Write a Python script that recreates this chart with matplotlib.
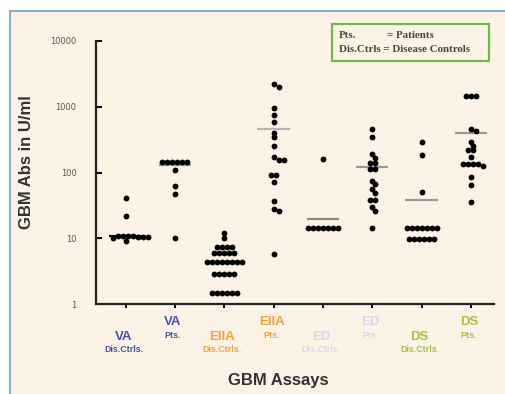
import numpy as np
import matplotlib
matplotlib.use("Agg")
import matplotlib.pyplot as plt
from matplotlib.patches import Rectangle

# ---------------- data ----------------
assays = ["VA", "VA", "EIIA", "EIIA", "ED", "ED", "DS", "DS"]
subgroups = ["Dis.Ctrls.", "Pts.", "Dis.Ctrls.", "Pts.", "Dis.Ctrls.", "Pts.", "Dis.Ctrls.", "Pts."]
label_colors = ["#4a50a6", "#4a50a6", "#f2a433", "#f2a433", "#d6d8ef", "#d6d8ef", "#a6c43a", "#a6c43a"]

va_ctrls = [41, 22, 11, 11, 11, 11, 10.5, 10.5, 10.5, 10, 9]
va_pts = [145, 145, 145, 145, 145, 145, 110, 62, 47, 10.2]
eiia_ctrls = [11.9, 10.2, 7.3, 7.3, 7.3, 7.3, 5.9, 5.9, 5.9, 5.9, 5.9,
              4.4, 4.4, 4.4, 4.4, 4.4, 4.4, 4.4, 4.4,
              2.86, 2.86, 2.86, 2.86, 2.86, 1.49, 1.49, 1.49, 1.49, 1.49, 1.49]
eiia_pts = [2190, 1980, 946, 750, 590, 403, 343, 256, 170, 155, 155,
            92, 92, 71, 36.5, 27.9, 26, 5.8]
ed_ctrls = [162, 14.5, 14.5, 14.5, 14.5, 14.5, 14.5, 14.5]
ed_pts = [464, 347, 189, 166, 141, 141, 115, 115, 74, 66, 56, 49, 38, 38, 29.5, 26, 14.5]
ds_ctrls = [291, 182, 51, 14.5, 14.5, 14.5, 14.5, 14.5, 14.5, 14.5,
            9.8, 9.8, 9.8, 9.8, 9.8, 9.8]
ds_pts = [1456, 1456, 1456, 454, 433, 294, 256, 220, 220, 170,
          133, 133, 133, 133, 126, 86, 65, 35]
groups = [va_ctrls, va_pts, eiia_ctrls, eiia_pts, ed_ctrls, ed_pts, ds_ctrls, ds_pts]

summary_values = [11, 130, 4.4, 457, 19.6, 123, 38, 403]
summary_colors = ["#111111", "#999999", "#111111", "#b5b5b5", "#888888", "#999999", "#999999", "#999999"]

y_ticks = [1, 10, 100, 1000, 10000]

# ---------------- layout helpers ----------------
W, H = 505, 394
BG = "#fdf2e6"
ax_left, ax_right, ax_bottom, ax_top = 96, 494, 304, 41
xmin, xmax = 0.40, 8.47
px_per_x = (ax_right - ax_left) / (xmax - xmin)
px_per_decade = (ax_bottom - ax_top) / 4.0
DOT = 5.0


def swarm(values):
    """rows of identical values centred; distinct values nudged sideways on collision"""
    vals = np.asarray(values, dtype=float)
    offs = np.zeros(len(vals))
    placed = []
    step = DOT / px_per_x
    for v in sorted(np.unique(vals), reverse=True):
        idx = np.where(vals == v)[0]
        n = len(idx)
        ypx = np.log10(v) * px_per_decade
        base = (np.arange(n) - (n - 1) / 2.0) * step
        shifts = [0.0]
        for k in range(1, 12):
            shifts += [k * step * 0.5, -k * step * 0.5]
        for sh in shifts:
            cand = base + sh
            ok = all((cx - c) ** 2 * px_per_x ** 2 + (ypx - cy) ** 2 >= (DOT * 0.8) ** 2
                     for c in cand for (cx, cy) in placed)
            if ok:
                break
        offs[idx] = cand
        placed += [(c, ypx) for c in cand]
    return offs


fig = plt.figure(figsize=(W / 100, H / 100), dpi=100)
fig.patch.set_facecolor("white")
panel = fig.add_axes([10 / W, 0, 1 - 10 / W, 1 - 11 / H])
panel.set_facecolor(BG)
panel.set_xticks([])
panel.set_yticks([])
for s in ["right", "bottom"]:
    panel.spines[s].set_visible(False)
for s in ["left", "top"]:
    panel.spines[s].set_color("#8aaad0")
    panel.spines[s].set_linewidth(1.5)

ax = fig.add_axes([ax_left / W, 1 - ax_bottom / H, (ax_right - ax_left) / W, (ax_bottom - ax_top) / H])
ax.set_facecolor("none")
ax.set_yscale("log")
ax.set_ylim(1, 10000)
ax.set_xlim(xmin, xmax)

for i, vals in enumerate(groups):
    xpos = i + 1
    offs = swarm(vals)
    ax.plot(xpos + offs, vals, "o", color="black", markersize=4.2, markeredgewidth=0, zorder=3)
    ax.hlines(summary_values[i], xpos - 0.33, xpos + 0.33, color=summary_colors[i], lw=1.6, zorder=2)

for s in ["top", "right"]:
    ax.spines[s].set_visible(False)
for s in ["left", "bottom"]:
    ax.spines[s].set_linewidth(1.6)
    ax.spines[s].set_color("#222222")

ax.set_yticks(y_ticks)
ax.set_yticklabels([str(t) for t in y_ticks])
ax.yaxis.set_minor_locator(matplotlib.ticker.NullLocator())
ax.tick_params(axis="y", direction="in", length=4, width=1.4, labelsize=6, labelcolor="#555555", pad=14)
ax.set_xticks(range(1, 9))
ax.set_xticklabels([""] * 8)
ax.tick_params(axis="x", direction="out", length=3, width=1.4)

# category labels
for i in range(8):
    xpos = i + 1
    if i % 2 == 0:
        y_main, y_sub = 337, 350
    else:
        y_main, y_sub = 322, 336
    xf = ax.transData.transform((xpos, 1))[0] / fig.dpi / (W / 100)
    fig.text(xf - 0.004, 1 - y_main / H, assays[i], ha="center", va="center",
             fontsize=9.5, fontweight="bold", color=label_colors[i], family="Liberation Sans")
    fig.text(xf - 0.004, 1 - y_sub / H, subgroups[i], ha="center", va="center",
             fontsize=6.4, fontweight="bold", color=label_colors[i], family="Liberation Sans")

fig.text(278 / W, 1 - 381 / H, "GBM Assays", ha="center", va="center",
         fontsize=12, fontweight="bold", color="#333333", family="Liberation Sans")
fig.text(27 / W, 1 - 162 / H, "GBM Abs in U/ml", ha="center", va="center", rotation=90,
         fontsize=12, fontweight="bold", color="#333333", family="Liberation Sans")

# legend box
fig.patches.append(Rectangle((332 / W, 1 - 61 / H), (489 - 332) / W, (61 - 24) / H,
                             transform=fig.transFigure, facecolor="none",
                             edgecolor="#6cbd45", lw=1.6))
fig.text(339 / W, 1 - 36 / H, "Pts.", ha="left", va="center", fontsize=7.8,
         fontweight="bold", color="#444444", family="Liberation Serif")
fig.text(387 / W, 1 - 36 / H, "= Patients", ha="left", va="center", fontsize=7.8,
         fontweight="bold", color="#444444", family="Liberation Serif")
fig.text(339 / W, 1 - 50 / H, "Dis.Ctrls = Disease Controls", ha="left", va="center", fontsize=7.8,
         fontweight="bold", color="#444444", family="Liberation Serif")

fig.savefig("out.png", dpi=100, facecolor=fig.get_facecolor())
